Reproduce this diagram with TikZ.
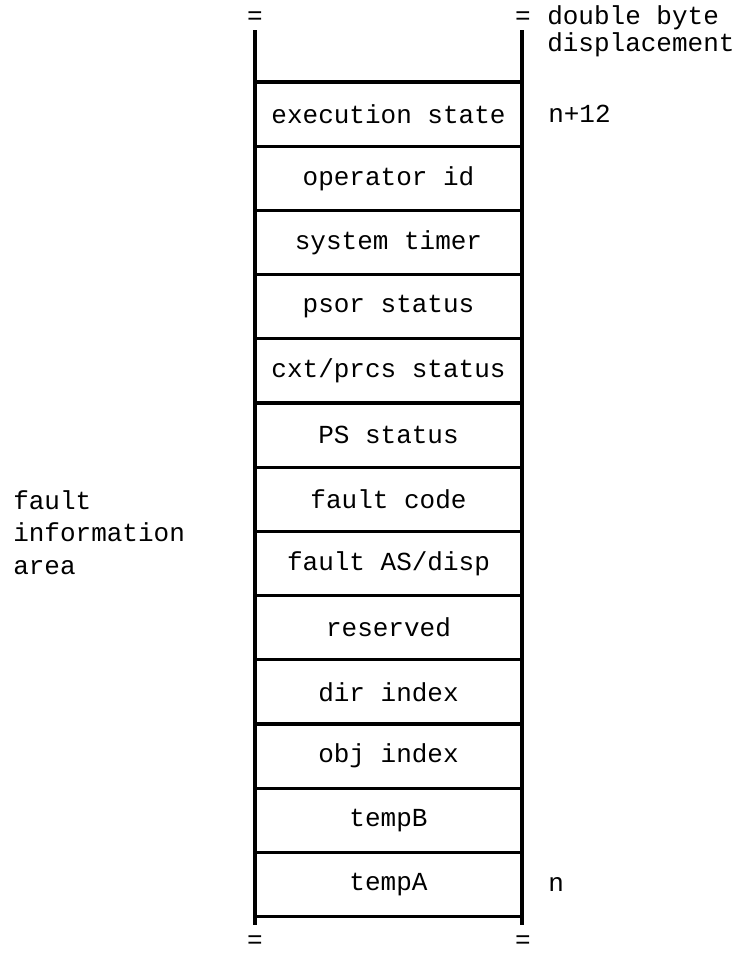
\documentclass[tikz,border=0pt]{standalone}
\usepackage{fontspec}
\setmonofont{Liberation Mono}
\usetikzlibrary{positioning}

\begin{document}
\begin{tikzpicture}[x=0.75pt, y=-0.75pt,
    font=\ttfamily\fontsize{19.5}{20}\selectfont,
    field/.style={draw, line width=2.4pt, minimum width=200.25pt, minimum height=48.15pt,
                  inner sep=0pt, outer sep=0pt},
    rail/.style={line width=2.4pt},
    note/.style={align=left, inner sep=0pt, anchor=west}]

    % page frame
    \fill[white] (0,0) rectangle (735,953);
    \useasboundingbox (0,0) rectangle (735,953);

    % ============ stack of fields ============
    \node[field] (f1) at (388.5,114.1) {execution state};
    \foreach \txt [count=\i from 2] in {operator id, system timer, psor status,
        cxt/prcs status, PS status, fault code, fault AS/disp, reserved,
        dir index, obj index, tempB, tempA}
      {
        \pgfmathtruncatemacro\j{\i-1}
        \node[field, below=0pt of f\j] (f\i) {\txt};
      }

    % open ends of the area
    \draw[rail] (f1.north west) -- ++(0,-52);
    \draw[rail] (f1.north east) -- ++(0,-52);
    \draw[rail] (f13.south west) -- ++(0,8);
    \draw[rail] (f13.south east) -- ++(0,8);

    % break marks
    \node[inner sep=0pt] (bTL) at (255,18) {=};
    \node[inner sep=0pt] (bTR) at (523,18) {=};
    \node[inner sep=0pt] (bBL) at (255,942) {=};
    \node[inner sep=0pt] (bBR) at (523,942) {=};

    % ============ annotations ============
    \node[note, font=\ttfamily\fontsize{19.5}{20.25}\selectfont] (disp) at (547,31.5)
      {double byte\\displacement};
    \node[note, right=19.5pt of f1] (top) {n+12};
    \node[note, right=19.5pt of f13] (base) {n};

    \node[note, font=\ttfamily\fontsize{19.5}{24.4}\selectfont] (area) at (13,532.5)
      {fault\\information\\area};

\end{tikzpicture}
\end{document}
